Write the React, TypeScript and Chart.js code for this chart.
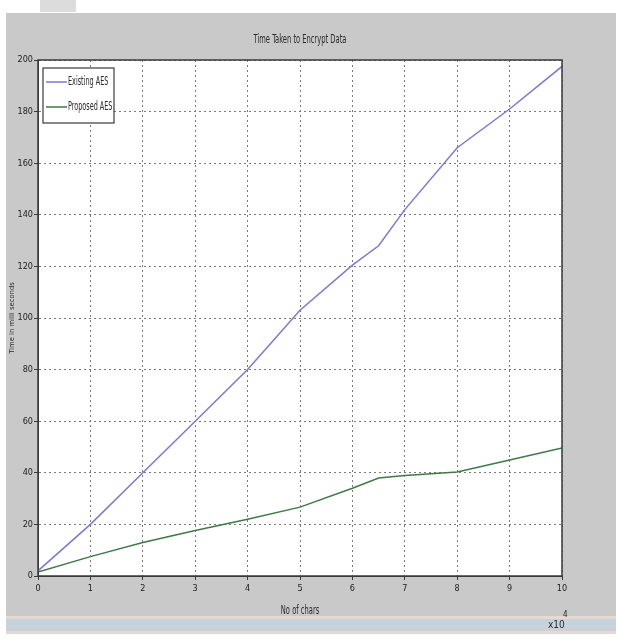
import React, { useEffect, useRef } from "react";
import { Chart, registerables } from "chart.js";

Chart.register(...registerables);

const TITLE = "Time Taken to Encrypt Data";
const X_LABEL = "No of chars";
const Y_LABEL = "Time in milli seconds";
const X_EXPONENT = "4";

const xValues = [0, 1, 2, 3, 4, 5, 6, 6.5, 7, 8, 9, 10];
const existingAES = [2, 20, 40, 60, 80, 103, 120.5, 128, 142, 166, 181, 197.5];
const proposedAES = [1.5, 7.5, 13, 17.6, 22, 26.7, 34, 38, 39, 40.3, 45, 49.6];
const seriesNames = ["Existing AES", "Proposed AES"];

const FONT = "'Liberation Sans Narrow', 'DejaVu Sans Condensed', 'Liberation Sans', sans-serif";
const BLUE = "#7a7ad4";
const GREEN = "#3f7a45";

const backgroundPlugin = {
  id: "matlabBg",
  beforeDraw(chart: any) {
    const { ctx, chartArea: a, width, height } = chart;
    ctx.save();
    ctx.fillStyle = "#ffffff";
    ctx.fillRect(0, 0, width, height);
    ctx.fillStyle = "#c9c9c9";
    ctx.fillRect(6, 13, 610, 603);
    ctx.fillStyle = "#dcdcdc";
    ctx.fillRect(40, 0, 36, 12);
    ctx.fillStyle = "#e6d8d2";
    ctx.fillRect(6, 616, 610, 3);
    ctx.fillStyle = "#c8d2db";
    ctx.fillRect(6, 619, 610, 12);
    ctx.fillStyle = "#e6d8d2";
    ctx.fillRect(6, 631, 610, 3);
    ctx.fillStyle = "#ffffff";
    ctx.fillRect(a.left, a.top, a.right - a.left, a.bottom - a.top);
    ctx.restore();
  },
  afterDraw(chart: any) {
    const { ctx, chartArea: a } = chart;
    ctx.save();
    ctx.strokeStyle = "#3a3a3a";
    ctx.lineWidth = 1.5;
    ctx.strokeRect(a.left, a.top, a.right - a.left, a.bottom - a.top);

    const cx = (a.left + a.right) / 2;
    ctx.fillStyle = "#2a2a2a";
    ctx.font = `10px ${FONT}`;
    ctx.textAlign = "center";
    ctx.textBaseline = "middle";
    ctx.save();
    ctx.translate(cx, 40);
    ctx.scale(0.75, 1.2);
    ctx.fillText(TITLE, 0, 0);
    ctx.restore();
    ctx.save();
    ctx.translate(cx, 611);
    ctx.scale(0.75, 1.2);
    ctx.fillText(X_LABEL, 0, 0);
    ctx.restore();
    ctx.save();
    ctx.font = `8px ${FONT}`;
    ctx.translate(12, (a.top + a.bottom) / 2);
    ctx.rotate(-Math.PI / 2);
    ctx.scale(0.95, 0.9);
    ctx.fillText(Y_LABEL, 0, 0);
    ctx.restore();
    ctx.save();
    ctx.textAlign = "left";
    ctx.font = `10px ${FONT}`;
    ctx.fillText("x10", 548, 625);
    ctx.font = `8px ${FONT}`;
    ctx.fillText(X_EXPONENT, 563, 615);
    ctx.restore();

    const lx = 43, ly = 68, lw = 71, lh = 55;
    ctx.fillStyle = "#ffffff";
    ctx.fillRect(lx, ly, lw, lh);
    ctx.strokeStyle = "#3a3a3a";
    ctx.lineWidth = 1.2;
    ctx.strokeRect(lx, ly, lw, lh);
    const colors = [BLUE, GREEN];
    const rows = [82, 107];
    seriesNames.forEach((name, i) => {
      ctx.strokeStyle = colors[i];
      ctx.lineWidth = 1.5;
      ctx.beginPath();
      ctx.moveTo(46, rows[i]);
      ctx.lineTo(67, rows[i]);
      ctx.stroke();
      ctx.save();
      ctx.fillStyle = "#2a2a2a";
      ctx.font = `10px ${FONT}`;
      ctx.textAlign = "left";
      ctx.textBaseline = "middle";
      ctx.translate(68, rows[i]);
      ctx.scale(0.72, 1.2);
      ctx.fillText(name, 0, 0);
      ctx.restore();
    });
    ctx.restore();
  },
};

export default function App() {
  const ref = useRef<HTMLCanvasElement | null>(null);
  useEffect(() => {
    if (!ref.current) return;
    const chart = new Chart(ref.current, {
      type: "line",
      data: {
        datasets: [
          {
            label: seriesNames[0],
            data: xValues.map((x, i) => ({ x, y: existingAES[i] })),
            borderColor: BLUE,
            borderWidth: 1.5,
            pointRadius: 0,
            tension: 0,
          },
          {
            label: seriesNames[1],
            data: xValues.map((x, i) => ({ x, y: proposedAES[i] })),
            borderColor: GREEN,
            borderWidth: 1.5,
            pointRadius: 0,
            tension: 0,
          },
        ],
      },
      options: {
        responsive: false,
        maintainAspectRatio: false,
        animation: false,
        devicePixelRatio: 1,
        layout: { padding: { left: 6, top: 60, right: 59, bottom: 0 } },
        plugins: {
          legend: { display: false },
          title: { display: false },
          tooltip: { enabled: false },
        },
        scales: {
          x: {
            type: "linear",
            min: 0,
            max: 10,
            ticks: {
              stepSize: 1,
              color: "#222",
              font: { family: FONT, size: 9 },
              padding: 3,
              maxRotation: 0,
            },
            grid: {
              color: "#7a7a7a",
              lineWidth: 1,
              tickLength: 4,
              tickColor: "#3a3a3a",
            },
            border: { display: true, color: "#3a3a3a", dash: [2, 3] },
            afterFit: (s: any) => {
              s.height = 68;
            },
          },
          y: {
            type: "linear",
            min: 0,
            max: 200,
            ticks: {
              stepSize: 20,
              color: "#222",
              font: { family: FONT, size: 9 },
              padding: 1,
            },
            grid: {
              color: "#7a7a7a",
              lineWidth: 1,
              tickLength: 4,
              tickColor: "#3a3a3a",
            },
            border: { display: true, color: "#3a3a3a", dash: [2, 3] },
            afterFit: (s: any) => {
              s.width = 32;
            },
          },
        },
      },
      plugins: [backgroundPlugin],
    });
    return () => chart.destroy();
  }, []);
  return (
    <div style={{ position: "fixed", left: 0, top: 0, width: 621, height: 644 }}>
      <canvas ref={ref} width={621} height={644} style={{ width: 621, height: 644 }} />
    </div>
  );
}
